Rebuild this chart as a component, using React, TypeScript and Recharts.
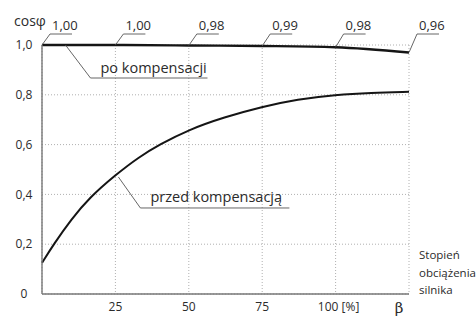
import { LineChart, Line, XAxis, YAxis, CartesianGrid, LabelList, ReferenceDot } from 'recharts';

// obciążenie silnika β [%]
const betaTicks = [25, 50, 75, 100, 125];
const cosTicks = [0, 0.2, 0.4, 0.6, 0.8, 1.0];

// po kompensacji
const poBeta = [0, 25, 50, 75, 100, 125];
const poValues = [1.0, 1.0, 0.998, 0.996, 0.991, 0.97];
const poLabels = ['1,00', '1,00', '0,98', '0,99', '0,98', '0,96'];

// przed kompensacją
const przedBeta = [0, 4, 10, 16, 25, 33, 40, 50, 62, 75, 87, 100, 112, 125];
const przedValues = [0.125, 0.2, 0.3, 0.385, 0.478, 0.55, 0.6, 0.66, 0.71, 0.752, 0.782, 0.8, 0.808, 0.812];

const poData = poBeta.map((b, i) => ({ beta: b, cos: poValues[i], label: poLabels[i] }));
const przedData = przedBeta.map((b, i) => ({ beta: b, cos: przedValues[i] }));

const FONT = "'Open Sans', 'Noto Sans', sans-serif";
const TEXT = '#2b2b2b';
const INK = '#151515';

function TopLabel(props: any) {
  const { x, y, value } = props;
  const ly = 34;
  return (
    <g>
      <path d={`M${x},${y} L${x + 8},${ly} L${x + 30},${ly}`} fill="none" stroke="#555" strokeWidth={0.9} />
      <text x={x + 10} y={ly - 4} fontFamily={FONT} fontSize={13} fill={TEXT}>{value}</text>
    </g>
  );
}

function XTick(props: any) {
  const { x, y, payload } = props;
  if (payload.value === 125) {
    return (
      <text x={x - 10} y={y} dy="0.71em" textAnchor="middle" fontFamily="'DejaVu Serif', serif" fontSize={15} fill={TEXT}>β</text>
    );
  }
  const is100 = payload.value === 100;
  return (
    <text x={is100 ? x + 3 : x} y={y} dy="0.71em" textAnchor="middle" fontFamily={FONT} fontSize={12} fill={TEXT}>
      {is100 ? '100 [%]' : String(payload.value)}
    </text>
  );
}

function YTick(props: any) {
  const { x, y, payload } = props;
  const v = payload.value;
  const label = v === 0 ? '0' : v.toFixed(1).replace('.', ',');
  return (
    <text x={x - 8} y={y} dy="0.35em" textAnchor="middle" fontFamily={FONT} fontSize={12} fill={TEXT}>{label}</text>
  );
}

function PoNote(props: any) {
  const { cx, cy } = props;
  const uy = cy + 33;
  return (
    <g>
      <path d={`M${cx},${cy} L${cx + 25},${uy} L${cx + 142},${uy}`} fill="none" stroke="#555" strokeWidth={0.9} />
      <text x={cx + 35} y={uy - 5} fontFamily={FONT} fontSize={14.5} fill={TEXT}>po kompensacji</text>
    </g>
  );
}

function PrzedNote(props: any) {
  const { cx, cy } = props;
  const uy = cy + 33;
  return (
    <g>
      <path d={`M${cx + 3},${cy + 2} L${cx + 25},${uy} L${cx + 174},${uy}`} fill="none" stroke="#555" strokeWidth={0.9} />
      <text x={cx + 35} y={uy - 6} fontFamily={FONT} fontSize={14.5} fill={TEXT}>przed kompensacją</text>
    </g>
  );
}

export default function App() {
  return (
    <div style={{ position: 'absolute', left: 0, top: 0, width: 476, height: 316, background: '#fff' }}>
      <LineChart width={476} height={316} margin={{ top: 45, right: 67, bottom: 0, left: 0 }}>
        <CartesianGrid stroke="#b0b0b0" strokeDasharray="1 2" />
        <XAxis
          dataKey="beta"
          type="number"
          domain={[0, 125]}
          ticks={betaTicks}
          interval={0}
          height={22}
          tickLine={false}
          tickSize={0}
          tickMargin={8}
          axisLine={{ stroke: '#777', strokeWidth: 1.4 }}
          tick={<XTick />}
        />
        <YAxis
          type="number"
          domain={[0, 1]}
          ticks={cosTicks}
          interval={0}
          width={42}
          tickLine={false}
          tickSize={0}
          tickMargin={10}
          axisLine={{ stroke: '#777', strokeWidth: 1.4 }}
          tick={<YTick />}
        />
        <Line data={przedData} dataKey="cos" type="basis" stroke={INK} strokeWidth={2} dot={false} isAnimationActive={false} />
        <Line data={poData} dataKey="cos" type="monotone" stroke={INK} strokeWidth={2.4} dot={false} isAnimationActive={false}>
          <LabelList dataKey="label" content={(p: any) => <TopLabel {...p} />} />
        </Line>
        <ReferenceDot x={8} y={1.0} shape={(p: any) => <PoNote {...p} />} />
        <ReferenceDot x={przedBeta[4]} y={przedValues[4]} shape={(p: any) => <PrzedNote {...p} />} />
      </LineChart>
      <svg width={476} height={316} style={{ position: 'absolute', left: 0, top: 0, pointerEvents: 'none' }}>
        <text x={14} y={26} fontFamily={FONT} fontSize={14} fill={TEXT}>cosφ</text>
        <g fontFamily={FONT} fontSize={11.5} fill={TEXT}>
          <text x={419} y={259}>Stopień</text>
          <text x={419} y={277}>obciążenia</text>
          <text x={419} y={294}>silnika</text>
        </g>
      </svg>
    </div>
  );
}
